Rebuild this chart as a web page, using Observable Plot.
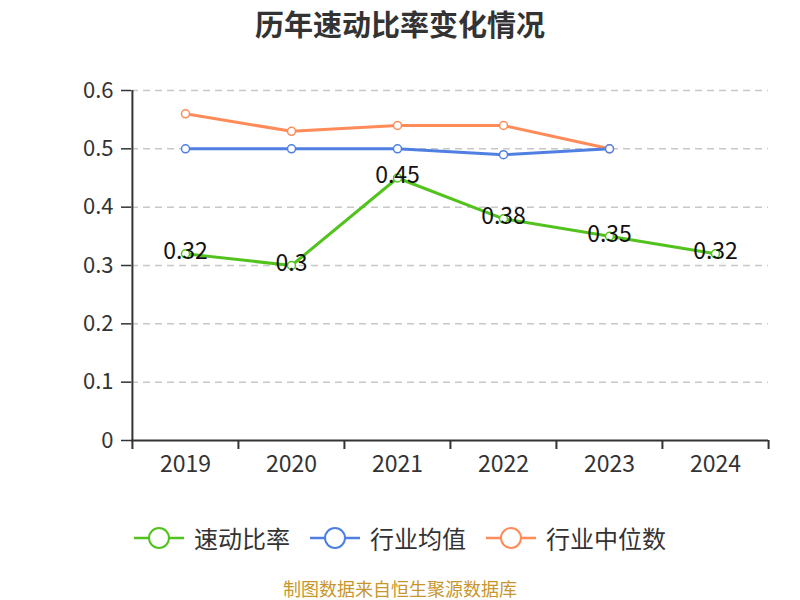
<!DOCTYPE html>
<html><head><meta charset="utf-8">
<script src="https://cdn.jsdelivr.net/npm/d3@7"></script>
<script src="https://cdn.jsdelivr.net/npm/@observablehq/plot@0.6"></script>
<style>
body{margin:0;background:#fff;font-family:"Noto Sans CJK SC","Noto Sans",sans-serif;}
#wrap{position:relative;width:800px;height:600px;overflow:hidden;}
#title{position:absolute;top:0;left:0;width:800px;text-align:center;font-size:29px;font-weight:bold;color:#333;line-height:47px;}
#chart{position:absolute;top:46px;left:0;}
#legend{position:absolute;top:520px;left:0;width:800px;display:flex;justify-content:center;gap:20px;font-size:24px;color:#333;line-height:36px;}
.item{display:flex;align-items:center;gap:10px;}
#caption{position:absolute;top:577px;left:0;width:800px;text-align:center;font-size:18px;color:#c8962e;line-height:22px;}
</style></head>
<body><div id="wrap">
<div id="title">历年速动比率变化情况</div>
<div id="chart"></div>
<div id="legend"></div>
<div id="caption">制图数据来自恒生聚源数据库</div>
</div>
<script>
const years = ["2019","2020","2021","2022","2023","2024"];
const quickRatio = [0.32, 0.30, 0.45, 0.38, 0.35, 0.32];
const industryYears = ["2019","2020","2021","2022","2023"];
const industryMean = [0.50, 0.50, 0.50, 0.49, 0.50];
const industryMedian = [0.56, 0.53, 0.54, 0.54, 0.50];
const yTicks = [0, 0.1, 0.2, 0.3, 0.4, 0.5, 0.6];
const seriesNames = ["速动比率", "行业均值", "行业中位数"];
const colors = ["#52c21d", "#4f80e1", "#ff8b58"];

const W = 800, H = 450, mL = 131, mR = 32, mT = 44, mB = 56;
const bw = (W - mL - mR) / years.length;

const qr = years.map((y, i) => ({year: y, value: quickRatio[i]}));
const mean = industryYears.map((y, i) => ({year: y, value: industryMean[i]}));
const med = industryYears.map((y, i) => ({year: y, value: industryMedian[i]}));

const chart = Plot.plot({
  width: W, height: H,
  marginLeft: mL, marginRight: mR, marginTop: mT, marginBottom: mB,
  style: {fontFamily: '"Noto Sans CJK SC","Noto Sans",sans-serif', background: "#fff"},
  x: {type: "point", domain: years, padding: 0.5},
  y: {domain: [0, 0.6]},
  marks: [
    Plot.gridY(yTicks.filter(d => d > 0), {stroke: "#c8c8c8", strokeOpacity: 1, strokeDasharray: "7,5", strokeWidth: 1.5}),
    Plot.axisY(yTicks, {tickSize: 10, tickPadding: 8, fontSize: 22, color: "#333", tickFormat: d => String(d), label: null, stroke: "#333", strokeWidth: 1.5}),
    Plot.axisX(years, {tickSize: 0, tickPadding: 15, fontSize: 23, color: "#333", label: null}),
    Plot.ruleY([0], {stroke: "#333", strokeWidth: 2}),
    Plot.ruleX([years[0]], {dx: -bw / 2, y1: 0, y2: 0.6, stroke: "#333", strokeWidth: 2}),
    Plot.ruleX(years, {x: d => d, dx: -bw / 2, y1: 0, y2: 0, insetBottom: -9, stroke: "#333", strokeWidth: 2}),
    Plot.ruleX([years[years.length - 1]], {dx: bw / 2, y1: 0, y2: 0, insetBottom: -9, stroke: "#333", strokeWidth: 2}),
    Plot.line(med, {x: "year", y: "value", stroke: colors[2], strokeWidth: 3}),
    Plot.line(mean, {x: "year", y: "value", stroke: colors[1], strokeWidth: 3}),
    Plot.line(qr, {x: "year", y: "value", stroke: colors[0], strokeWidth: 3}),
    Plot.dot(med, {x: "year", y: "value", r: 4, fill: "#fff", stroke: colors[2], strokeWidth: 1.5}),
    Plot.dot(mean, {x: "year", y: "value", r: 4, fill: "#fff", stroke: colors[1], strokeWidth: 1.5}),
    Plot.dot(qr, {x: "year", y: "value", r: 4, fill: "#fff", stroke: colors[0], strokeWidth: 1.5}),
    Plot.text(qr, {x: "year", y: "value", text: d => String(d.value), fontSize: 23, fill: "#111", dy: -2})
  ]
});
document.getElementById("chart").appendChild(chart);

const legend = document.getElementById("legend");
seriesNames.forEach((name, i) => {
  const item = document.createElement("div");
  item.className = "item";
  item.innerHTML = `<svg width="50" height="26"><line x1="0" y1="13" x2="50" y2="13" stroke="${colors[i]}" stroke-width="2.5"/><circle cx="25" cy="13" r="10" fill="#fff" stroke="${colors[i]}" stroke-width="2"/></svg><span>${name}</span>`;
  legend.appendChild(item);
});
</script>
</body></html>
